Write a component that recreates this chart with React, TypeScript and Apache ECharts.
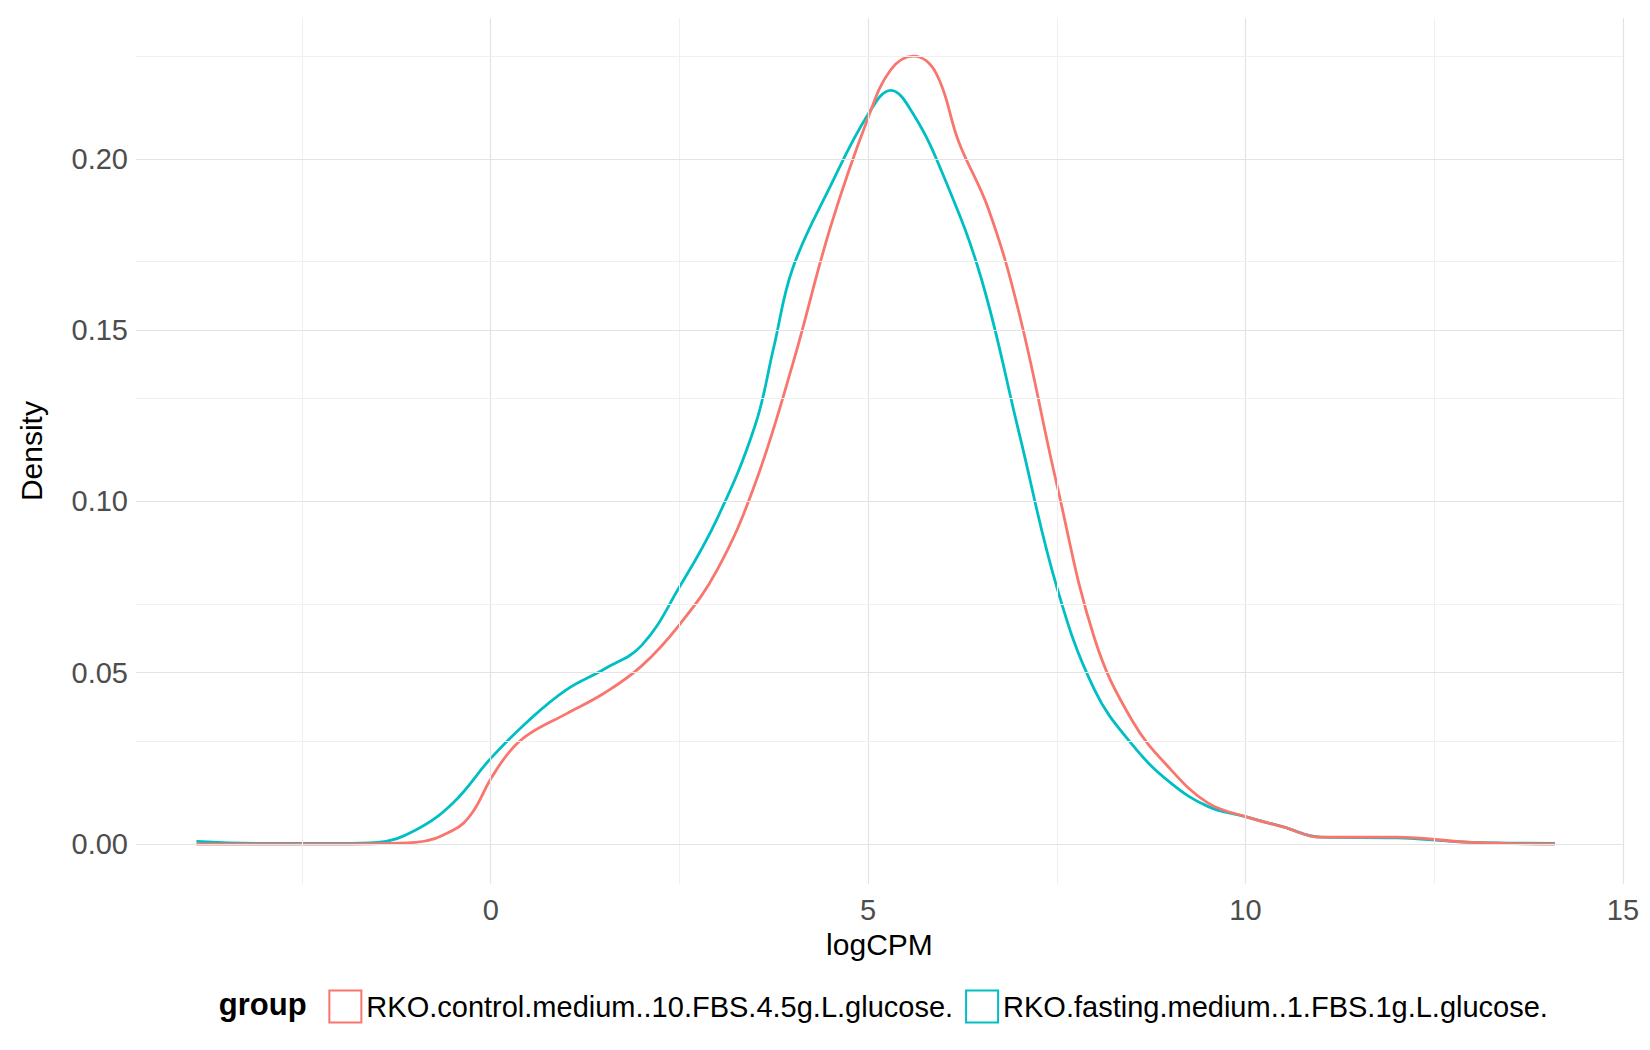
import React, { useRef, useEffect } from 'react';
import * as echarts from 'echarts';

const seriesNames = [
  'RKO.control.medium..10.FBS.4.5g.L.glucose.',
  'RKO.fasting.medium..1.FBS.1g.L.glucose.',
];
const colors = ['#F8766D', '#00BFC4'];

const controlX = [-3.9, -2, -1, -0.5, -0.25, 0, 0.25, 0.5, 1, 1.5, 2, 2.5, 3, 3.5, 4, 4.5, 5, 5.3, 5.6, 5.9, 6.2, 6.6, 7, 7.5, 8, 8.5, 9, 9.5, 10, 10.5, 11, 12, 13, 14.1];
const controlY = [0, 0, 0.0005, 0.004, 0.009, 0.019, 0.027, 0.032, 0.038, 0.044, 0.052, 0.064, 0.08, 0.105, 0.14, 0.18, 0.212, 0.226, 0.23, 0.225, 0.205, 0.185, 0.155, 0.105, 0.06, 0.036, 0.022, 0.012, 0.008, 0.005, 0.002, 0.002, 0.0005, 0];
const fastingX = [-3.9, -3, -2, -1.5, -1, -0.5, 0, 0.5, 1, 1.5, 2, 2.5, 3, 3.5, 3.75, 4, 4.5, 5, 5.3, 5.6, 6, 6.5, 7, 7.5, 8, 8.5, 9, 9.5, 10, 10.5, 11, 12, 13, 14.1];
const fastingY = [0.0008, 0.0002, 0.0002, 0.0005, 0.004, 0.012, 0.025, 0.036, 0.045, 0.051, 0.058, 0.075, 0.095, 0.122, 0.145, 0.168, 0.192, 0.213, 0.22, 0.213, 0.195, 0.165, 0.12, 0.075, 0.045, 0.029, 0.018, 0.011, 0.008, 0.005, 0.002, 0.0018, 0.0005, 0.0002];

const xTicks = [0, 5, 10, 15];
const yTicks = [0, 0.05, 0.1, 0.15, 0.2];
const xMinor = [-2.5, 2.5, 7.5, 12.5];
const yMinor = [0.025, 0.075, 0.125, 0.175, 0.225];

const App = () => {
  const chartRef = useRef(null);

  useEffect(() => {
    const myChart = echarts.init(chartRef.current, null, { renderer: 'svg' });
    const font = 'Liberation Sans, Arial, sans-serif';
    const major = { color: '#e3e3e3', width: 1.2, type: 'solid' };
    const minor = { color: '#f0f0f0', width: 1, type: 'solid' };
    const gridLines = [
      ...xTicks.map((v) => ({ xAxis: v, lineStyle: major })),
      ...xMinor.map((v) => ({ xAxis: v, lineStyle: minor })),
      ...yTicks.map((v) => ({ yAxis: v, lineStyle: major })),
      ...yMinor.map((v) => ({ yAxis: v, lineStyle: minor })),
    ];
    const option = {
      animation: false,
      textStyle: { fontFamily: font },
      grid: { left: '7.3%', right: '0.7%', top: '1%', bottom: '15.3%' },
      xAxis: {
        type: 'value', min: -4.7, max: 15,
        name: 'logCPM', nameLocation: 'middle', nameGap: 46,
        nameTextStyle: { fontSize: 30, color: '#000', fontFamily: font },
        axisLine: { show: false }, axisTick: { show: false }, splitLine: { show: false },
        axisLabel: { customValues: xTicks, fontSize: 29, color: '#4d4d4d', margin: 12, showMaxLabel: true },
      },
      yAxis: {
        type: 'value', min: -0.0116, max: 0.241,
        name: 'Density', nameLocation: 'middle', nameGap: 90,
        nameTextStyle: { fontSize: 30, color: '#000', fontFamily: font },
        axisLine: { show: false }, axisTick: { show: false }, splitLine: { show: false },
        axisLabel: { customValues: yTicks, fontSize: 29, color: '#4d4d4d', margin: 8, formatter: (v) => v.toFixed(2) },
      },
      legend: {
        bottom: '1.3%', left: '19.3%',
        icon: 'rect', itemWidth: 32, itemHeight: 32, itemGap: 12,
        textStyle: { fontSize: 29, color: '#000', fontFamily: font },
        data: seriesNames.map((n, i) => ({
          name: n,
          itemStyle: { color: '#fff', borderColor: colors[i], borderWidth: 2 },
        })),
      },
      graphic: [{
        type: 'text', left: '12.9%', bottom: '2.1%',
        style: { text: 'group', fontSize: 31, fontWeight: 'bold', fill: '#000', fontFamily: font },
      }],
      series: [
        {
          name: '_grid', type: 'line', data: [], silent: true,
          markLine: { silent: true, symbol: ['none', 'none'], label: { show: false }, data: gridLines },
        },
        {
          name: seriesNames[0], type: 'line', smooth: 0.4, symbol: 'none', z: 3,
          lineStyle: { color: colors[0], width: 2.8 }, itemStyle: { color: colors[0] },
          data: controlX.map((x, i) => [x, controlY[i]]),
        },
        {
          name: seriesNames[1], type: 'line', smooth: 0.4, symbol: 'none', z: 2,
          lineStyle: { color: colors[1], width: 2.8 }, itemStyle: { color: colors[1] },
          data: fastingX.map((x, i) => [x, fastingY[i]]),
        },
      ],
    };
    myChart.setOption(option);
    return () => {
      myChart.dispose();
    };
  }, []);

  return <div ref={chartRef} style={{ width: '1634px', height: '1034px' }} />;
};

export default App;
